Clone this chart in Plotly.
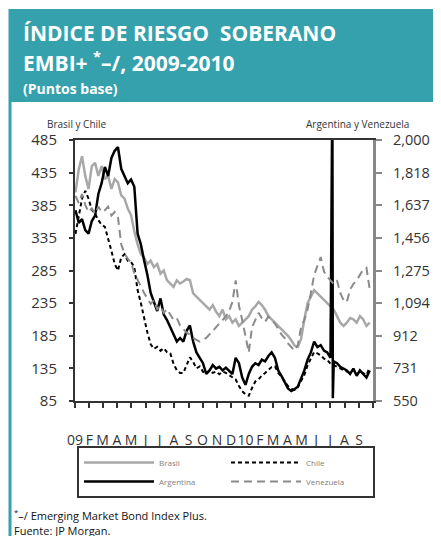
import pandas as pd
import plotly.graph_objects as go

# ---------------- data (weekly) ----------------
dates = pd.date_range("2009-01-02", periods=91, freq="7D")

brasil = [405, 440, 460, 430, 410, 445, 450, 430, 445, 425,
          430, 410, 425, 420, 400, 395, 380, 370, 345, 325,
          310, 305, 295, 300, 290, 295, 280, 285, 270, 265,
          260, 270, 265, 268, 272, 270, 250, 245, 240, 235,
          230, 225, 232, 222, 215, 225, 210, 215, 205, 210,
          200, 205, 210, 215, 225, 230, 237, 232, 225, 215,
          210, 205, 200, 195, 190, 185, 178, 170, 168, 180,
          210, 235, 245, 255, 250, 245, 240, 235, 230, 225,
          215, 205, 200, 205, 212, 210, 205, 215, 210, 200, 205]

chile = [341, 370, 395, 407, 395, 378, 372, 362, 355, 352,
         335, 315, 295, 285, 305, 310, 300, 298, 290, 255,
         235, 210, 190, 172, 165, 168, 162, 166, 160, 158,
         142, 132, 128, 128, 140, 152, 145, 135, 138, 130,
         127, 132, 128, 130, 126, 130, 128, 125, 122, 118,
         108, 100, 95, 93, 105, 115, 118, 124, 128, 133,
         137, 138, 128, 122, 115, 108, 104, 102, 106, 115,
         125, 140, 150, 160, 158, 155, 150, 148, 142, 140,
         138, 135, 132, 130, 128, 133, 126, 130, 128, 125, 137]

argentina = [1610, 1540, 1560, 1500, 1480, 1550, 1580, 1700, 1760, 1850,
             1800, 1900, 1940, 1960, 1840, 1800, 1760, 1780, 1740, 1480,
             1420, 1330, 1250, 1150, 1100, 1050, 1120, 1030, 1000, 960,
             930, 880, 900, 880, 940, 970, 880, 820, 790, 760,
             700, 720, 750, 730, 740, 720, 735, 720, 700, 790,
             760, 680, 640, 700, 740, 760, 750, 780, 770, 800,
             820, 790, 720, 690, 650, 620, 605, 615, 630, 670,
             720, 780, 820, 880, 850, 860, 830, 820, 790, 770,
             760, 740, 730, 720, 700, 730, 690, 720, 700, 680, 720]
arg_spike_dates = ["2010-07-06", "2010-07-07"]
arg_spike_values = [2300, 565]

venezuela = [1690, 1650, 1700, 1640, 1600, 1620, 1590, 1630, 1600, 1610,
             1630, 1580, 1600, 1570, 1420, 1370, 1340, 1320, 1260, 1220,
             1190, 1150, 1120, 1090, 1110, 1060, 1080, 1040, 1060, 1030,
             1000, 1010, 970, 950, 930, 920, 900, 890, 880, 890,
             900, 920, 940, 960, 980, 1000, 1020, 1050, 1100, 1220,
             1080, 1000, 900, 820, 960, 1000, 1040, 1010, 990, 1020,
             1000, 980, 950, 920, 900, 870, 850, 830, 860, 960,
             1000, 1060, 1150, 1250, 1300, 1350, 1270, 1240, 1220, 1200,
             1220, 1150, 1110, 1100, 1170, 1200, 1220, 1250, 1280, 1290, 1170]

month_ticks = pd.date_range("2009-01-01", "2010-10-01", freq="MS")
month_labels = ["09", "F", "M", "A", "M", "J", "J", "A", "S", "O", "N", "D",
                "10", "F", "M", "A", "M", "J", "J", "A", "S", ""]

left_ticks = [85, 135, 185, 235, 285, 335, 385, 435, 485]
right_ticks = [550, 731.25, 912.5, 1093.75, 1275, 1456.25, 1637.5, 1818.75, 2000]
right_labels = ["550", "731", "912", "1,094", "1,275", "1,456", "1,637", "1,818", "2,000"]

# ---------------- geometry (page pixels; the page body adds an 8px offset) ----------------
OFF = 8
PAGE_W, PAGE_H = 441, 536
W, H = PAGE_W - OFF, PAGE_H - OFF
L, R, T, B = 75, 373, 140, 401          # plot area in page pixels


def px(x):
    return (x - L) / (R - L)


def py(y):
    return (B - y) / (B - T)


arg_df = pd.concat([
    pd.DataFrame({"d": dates, "v": argentina}),
    pd.DataFrame({"d": pd.to_datetime(arg_spike_dates), "v": arg_spike_values}),
]).sort_values("d")

FONT = "Open Sans"
fig = go.Figure()
fig.add_trace(go.Scatter(x=dates, y=brasil, name="Brasil", mode="lines",
                         line=dict(color="#a8a8a8", width=2.5), yaxis="y"))
fig.add_trace(go.Scatter(x=dates, y=chile, name="Chile", mode="lines",
                         line=dict(color="#000000", width=2, dash="4px,3px"), yaxis="y"))
fig.add_trace(go.Scatter(x=arg_df["d"], y=arg_df["v"], name="Argentina", mode="lines",
                         line=dict(color="#000000", width=2.5), yaxis="y2"))
fig.add_trace(go.Scatter(x=dates, y=venezuela, name="Venezuela", mode="lines",
                         line=dict(color="#8a8a8a", width=2, dash="8px,5px"), yaxis="y2"))

tickfont = dict(family=FONT, size=15, color="#333333")

fig.update_layout(
    width=W, height=H,
    margin=dict(l=L - OFF, r=PAGE_W - R, t=T - OFF, b=PAGE_H - B, autoexpand=False),
    paper_bgcolor="white", plot_bgcolor="white",
    showlegend=True,
    xaxis=dict(
        type="date", range=["2009-01-01", "2010-10-01"],
        tickvals=list(month_ticks), ticktext=month_labels, tickangle=0,
        showgrid=False, zeroline=False,
        showline=True, linecolor="#333333", linewidth=2, mirror=True,
        ticks="outside", ticklen=5, tickwidth=2, tickcolor="#333333",
        tickfont=dict(family=FONT, size=14, color="#333333"),
        ticklabelstandoff=20,
    ),
    yaxis=dict(
        range=[85, 485], tickvals=left_ticks,
        ticktext=[str(v) for v in left_ticks],
        showgrid=False, zeroline=False,
        showline=True, linecolor="#333333", linewidth=2,
        ticks="outside", ticklen=4, tickwidth=2, tickcolor="#333333",
        tickfont=tickfont, ticklabelstandoff=9,
    ),
    yaxis2=dict(
        range=[550, 2000], tickvals=right_ticks, ticktext=right_labels,
        overlaying="y", side="right",
        showgrid=False, zeroline=False,
        showline=True, linecolor="#888888", linewidth=3,
        ticks="outside", ticklen=6, tickwidth=2, tickcolor="#888888",
        tickfont=dict(family=FONT, size=14.5, color="#333333"), ticklabelstandoff=8,
    ),
    legend=dict(
        orientation="h", x=px(77), y=py(446), xanchor="left", yanchor="top",
        bordercolor="#333333", borderwidth=2, bgcolor="white",
        font=dict(family=FONT, size=8, color="#808080"),
        entrywidth=62, entrywidthmode="pixels", itemwidth=70,
        tracegroupgap=0,
    ),
)

# banner and left border
fig.add_shape(type="rect", xref="paper", yref="paper",
              x0=px(9), x1=px(441), y0=py(102), y1=py(9),
              fillcolor="#35a1ad", line=dict(width=0), layer="below")
fig.add_shape(type="line", xref="paper", yref="paper",
              x0=px(10), x1=px(10), y0=py(9), y1=py(536),
              line=dict(color="#35a1ad", width=3))

ann = [
    dict(text="<b>ÍNDICE DE RIESGO  SOBERANO</b>", x=px(21), y=py(33), size=21, color="white"),
    dict(text="<b>EMBI+ <sup>*</sup>–/, 2009-2010</b>", x=px(21), y=py(61), size=21, color="white"),
    dict(text="<b>(Puntos base)</b>", x=px(21), y=py(88), size=14, color="white"),
    dict(text="Brasil y Chile", x=px(45), y=py(124), size=10, color="#333333"),
    dict(text="<sup>*</sup>–/ Emerging Market Bond Index Plus.", x=px(12), y=py(515), size=11, color="#111111"),
    dict(text="Fuente: JP Morgan.", x=px(12), y=py(530), size=11, color="#111111"),
]
for a in ann:
    fig.add_annotation(text=a["text"], x=a["x"], y=a["y"], xref="paper", yref="paper",
                       xanchor="left", yanchor="middle", showarrow=False,
                       font=dict(family=FONT, size=a["size"], color=a["color"]))
fig.add_annotation(text="Argentina y Venezuela", x=px(411), y=py(124), xref="paper", yref="paper",
                   xanchor="right", yanchor="middle", showarrow=False,
                   font=dict(family=FONT, size=10, color="#333333"))

fig.write_html("out.html", config={"displayModeBar": False})
